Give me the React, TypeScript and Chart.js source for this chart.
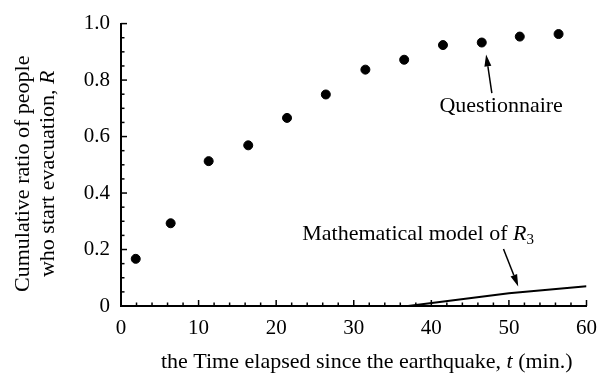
import React, { useEffect, useRef } from "react";
import { Chart, registerables } from "chart.js";

Chart.register(...registerables);

// Questionnaire results (time in minutes, cumulative ratio)
const questionnaireTime = [1.9, 6.4, 11.3, 16.4, 21.4, 26.4, 31.5, 36.5, 41.5, 46.5, 51.4, 56.4];
const questionnaireRatio = [0.167, 0.293, 0.513, 0.569, 0.666, 0.749, 0.837, 0.872, 0.924, 0.933, 0.954, 0.963];

// Mathematical model of R3
const modelTime = [37, 50, 60];
const modelRatio = [0, 0.045, 0.07];

// Tick labels
const xTickValues = [0, 10, 20, 30, 40, 50, 60];
const yTickValues = [0, 0.2, 0.4, 0.6, 0.8, 1.0];
const yTickLabels = ["0", "0.2", "0.4", "0.6", "0.8", "1.0"];

const FONT = "'Liberation Serif', 'Times New Roman', serif";
const FS = 22;
const TICK_FS = 21;

type Seg = { text: string; italic?: boolean; sub?: boolean };

function drawRich(ctx: CanvasRenderingContext2D, segs: Seg[], cx: number, cy: number) {
  const fontOf = (s: Seg) =>
    `${s.italic ? "italic " : ""}${s.sub ? 15 : FS}px ${FONT}`;
  let total = 0;
  const widths = segs.map((s) => {
    ctx.font = fontOf(s);
    const w = ctx.measureText(s.text).width;
    total += w;
    return w;
  });
  let x = cx - total / 2;
  ctx.textBaseline = "middle";
  ctx.textAlign = "left";
  segs.forEach((s, i) => {
    ctx.font = fontOf(s);
    ctx.fillText(s.text, x, cy + (s.sub ? 6 : 0));
    x += widths[i];
  });
}

function arrow(ctx: CanvasRenderingContext2D, x1: number, y1: number, x2: number, y2: number) {
  const ang = Math.atan2(y2 - y1, x2 - x1);
  const hl = 12;
  const hw = 3.5;
  const bx = x2 - hl * Math.cos(ang);
  const by = y2 - hl * Math.sin(ang);
  ctx.beginPath();
  ctx.moveTo(x1, y1);
  ctx.lineTo(bx, by);
  ctx.lineWidth = 1.5;
  ctx.stroke();
  ctx.beginPath();
  ctx.moveTo(x2, y2);
  ctx.lineTo(bx + hw * Math.sin(ang), by - hw * Math.cos(ang));
  ctx.lineTo(bx - hw * Math.sin(ang), by + hw * Math.cos(ang));
  ctx.closePath();
  ctx.fill();
}

const overlay = {
  id: "overlay",
  afterDraw(chart: any) {
    const ctx: CanvasRenderingContext2D = chart.ctx;
    const xs = chart.scales.x;
    const ys = chart.scales.y;
    const area = chart.chartArea;
    ctx.save();
    ctx.strokeStyle = "#000";
    ctx.fillStyle = "#000";
    ctx.lineWidth = 1.5;
    // x ticks (inward)
    for (let t = 0; t <= 60; t += 2) {
      const px = xs.getPixelForValue(t);
      const len = t % 10 === 0 ? 6 : 3.5;
      ctx.beginPath();
      ctx.moveTo(px, area.bottom);
      ctx.lineTo(px, area.bottom - len);
      ctx.stroke();
    }
    // y ticks (inward)
    for (let i = 0; i <= 20; i++) {
      const v = i * 0.05;
      const py = ys.getPixelForValue(v);
      const len = i % 4 === 0 ? 6 : 3.5;
      ctx.beginPath();
      ctx.moveTo(area.left, py);
      ctx.lineTo(area.left + len, py);
      ctx.stroke();
    }
    // annotations
    drawRich(ctx, [{ text: "Questionnaire" }], xs.getPixelForValue(49.0), ys.getPixelForValue(0.708));
    arrow(ctx, xs.getPixelForValue(47.8), ys.getPixelForValue(0.754), xs.getPixelForValue(47.06), ys.getPixelForValue(0.891));
    drawRich(
      ctx,
      [{ text: "Mathematical model of " }, { text: "R", italic: true }, { text: "3", sub: true }],
      xs.getPixelForValue(38.3),
      ys.getPixelForValue(0.254)
    );
    arrow(ctx, xs.getPixelForValue(49.3), ys.getPixelForValue(0.202), xs.getPixelForValue(51.2), ys.getPixelForValue(0.069));

    // x axis title
    drawRich(
      ctx,
      [
        { text: "the Time elapsed since the earthquake, " },
        { text: "t", italic: true },
        { text: " (min.)" },
      ],
      (area.left + area.right) / 2 + 13,
      362
    );
    // y axis title
    const cy = (area.top + area.bottom) / 2 + 9;
    ctx.save();
    ctx.translate(23, cy);
    ctx.rotate(-Math.PI / 2);
    drawRich(ctx, [{ text: "Cumulative ratio of people" }], 0, 0);
    ctx.restore();
    ctx.save();
    ctx.translate(48, cy);
    ctx.rotate(-Math.PI / 2);
    drawRich(ctx, [{ text: "who start evacuation, " }, { text: "R", italic: true }], 0, 0);
    ctx.restore();
    ctx.restore();
  },
};

export default function App() {
  const ref = useRef<HTMLCanvasElement | null>(null);
  useEffect(() => {
    document.body.style.margin = "0";
    if (!ref.current) return;
    const chart = new Chart(ref.current, {
      type: "scatter",
      data: {
        datasets: [
          {
            label: "Questionnaire",
            data: questionnaireTime.map((t, i) => ({ x: t, y: questionnaireRatio[i] })),
            pointRadius: 4.5,
            pointBackgroundColor: "#000",
            pointBorderColor: "#000",
            showLine: false,
          },
          {
            label: "Model R3",
            type: "line",
            data: modelTime.map((t, i) => ({ x: t, y: modelRatio[i] })),
            borderColor: "#000",
            borderWidth: 2,
            pointRadius: 0,
            fill: false,
            tension: 0,
          } as any,
        ],
      },
      options: {
        animation: false,
        responsive: false,
        devicePixelRatio: 1,
        layout: { padding: { left: 0, top: 15, right: 17, bottom: 0 } },
        plugins: { legend: { display: false }, tooltip: { enabled: false } },
        scales: {
          x: {
            type: "linear",
            min: 0,
            max: 60,
            afterFit: (s: any) => {
              s.height = 68;
            },
            afterBuildTicks: (s: any) => {
              s.ticks = xTickValues.map((v) => ({ value: v }));
            },
            ticks: {
              padding: 10,
              color: "#000",
              font: { family: FONT, size: TICK_FS },
              callback: (v: any) => String(v),
            },
            grid: { display: false, drawTicks: false },
            border: { display: true, color: "#000", width: 2 },
          },
          y: {
            type: "linear",
            min: 0,
            max: 1,
            afterFit: (s: any) => {
              s.width = 121;
            },
            afterBuildTicks: (s: any) => {
              s.ticks = yTickValues.map((v) => ({ value: v }));
            },
            ticks: {
              padding: 11,
              color: "#000",
              font: { family: FONT, size: TICK_FS },
              callback: (v: any) => {
                const i = yTickValues.findIndex((t) => Math.abs(t - v) < 1e-6);
                return i >= 0 ? yTickLabels[i] : "";
              },
            },
            grid: { display: false, drawTicks: false },
            border: { display: true, color: "#000", width: 2 },
          },
        },
      },
      plugins: [overlay],
    });
    return () => chart.destroy();
  }, []);
  return (
    <div style={{ width: 607, height: 374 }}>
      <canvas ref={ref} width={607} height={374} style={{ display: "block" }} />
    </div>
  );
}
